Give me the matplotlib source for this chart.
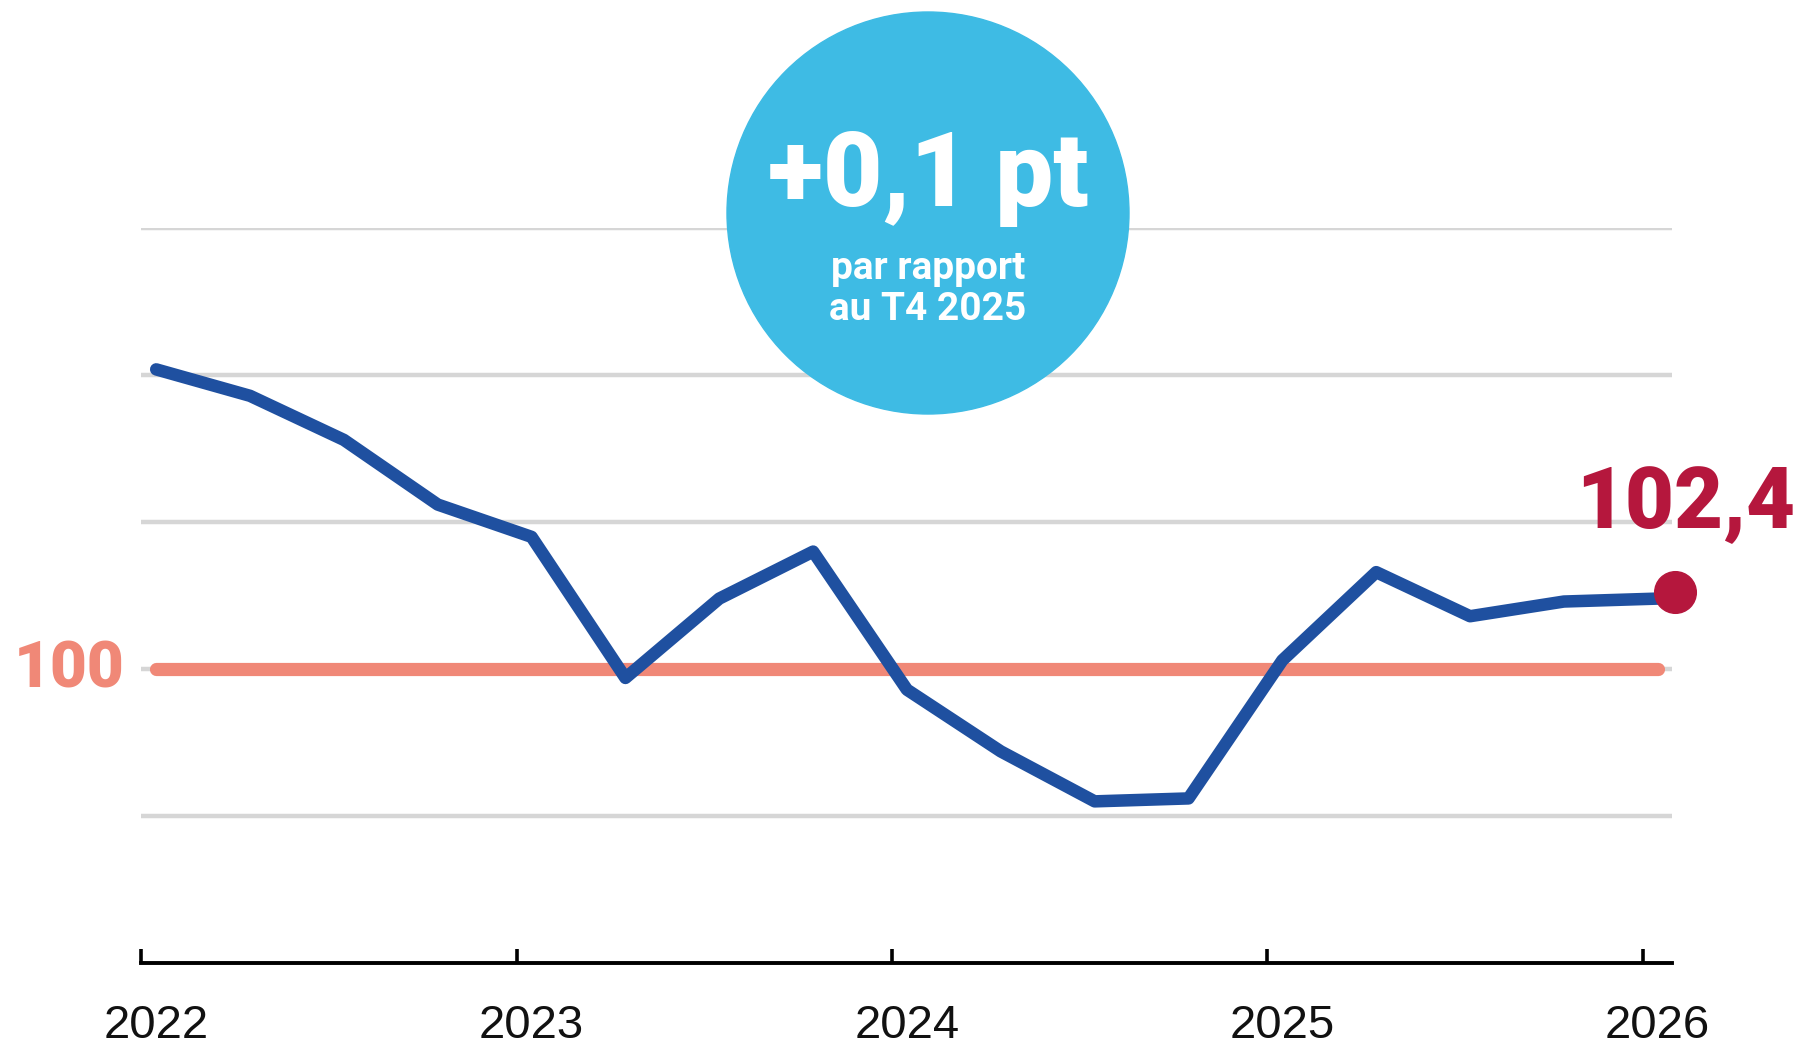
import matplotlib.pyplot as plt
import matplotlib.transforms as mtransforms
from matplotlib.patches import Circle
import numpy as np

# quarterly index, T1 2022 .. T1 2026
quarters = ['T1 2022', 'T2 2022', 'T3 2022', 'T4 2022',
            'T1 2023', 'T2 2023', 'T3 2023', 'T4 2023',
            'T1 2024', 'T2 2024', 'T3 2024', 'T4 2024',
            'T1 2025', 'T2 2025', 'T3 2025', 'T4 2025',
            'T1 2026']
values = [110.2, 109.3, 107.8, 105.6,
          104.5, 99.7, 102.4, 104.0,
          99.3, 97.2, 95.5, 95.6,
          100.3, 103.3, 101.8, 102.3,
          102.4]
years = [2022, 2023, 2024, 2025, 2026]
base = 100
grid_vals = [95, 100, 105, 110, 115]

last_label = '102,4'
delta_big = '+0,1 pt'
delta_small = 'par rapport\nau T4 2025'

blue = '#1f50a0'
salmon = '#f08877'
crimson = '#b5173d'
sky = '#3ebbe4'

# points sit mid-month of the first month of each quarter
x = np.array([int(q[-4:]) + (int(q[1]) - 1) / 4 + 0.04 for q in quarters])
y = np.array(values)

fig = plt.figure(figsize=(18.17, 10.44), dpi=100)
ax = fig.add_axes([0.0777, 0.0776, 0.8425, 0.7037])

for g in grid_vals:
    ax.axhline(g, color='#d6d6d6', linewidth=3.2, zorder=1)

ax.plot([x[0], x[-1]], [base, base], color=salmon, linewidth=9.5,
        solid_capstyle='round', zorder=2)
ax.plot(x, y, color=blue, linewidth=9, solid_capstyle='round',
        solid_joinstyle='round', zorder=3)

# end dot, nudged slightly up-right as in the original
dot_tr = ax.transData + mtransforms.ScaledTranslation(0.17, 0.07, fig.dpi_scale_trans)
ax.plot([x[-1]], [y[-1]], 'o', markersize=30, color=crimson, transform=dot_tr,
        zorder=4, clip_on=False)

ax.set_xlim(2022, 2026.078)
ax.set_ylim(90, 115)

for s in ['top', 'right', 'left']:
    ax.spines[s].set_visible(False)
ax.spines['bottom'].set_linewidth(2.8)
ax.spines['bottom'].set_color('black')
ax.set_yticks([])
ax.set_xticks(years)
ax.set_xticklabels([])
ax.tick_params(axis='x', direction='in', length=10, width=2.6, color='black')

for yr in years:
    ax.text(yr + 0.04, -0.1015, str(yr), transform=ax.get_xaxis_transform(),
            ha='center', va='baseline', fontsize=34, family='Liberation Sans',
            color='#111111')

# labels
ax.text(-0.083, base, '100', transform=mtransforms.blended_transform_factory(ax.transAxes, ax.transData),
        ha='left', va='center', fontsize=46, fontweight='black', family='Roboto',
        color=salmon)
ax.annotate(last_label, xy=(x[-1], y[-1]), xytext=(20, 51), textcoords='offset points',
            ha='center', va='baseline', fontsize=61, fontweight='black',
            family='Roboto', color=crimson, annotation_clip=False)

# bubble
circ = Circle((9.28, 8.31), 2.01, transform=fig.dpi_scale_trans, color=sky, zorder=5)
fig.add_artist(circ)
fig.text(9.28 / 18.17, 8.38 / 10.44, delta_big, ha='center', va='baseline',
         fontsize=74, fontweight='black', family='Roboto', color='white', zorder=6)
fig.text(9.28 / 18.17, 7.24 / 10.44, delta_small, ha='center', va='baseline',
         fontsize=28, fontweight='bold', family='Roboto', color='white',
         linespacing=1.15, zorder=6)

fig.savefig('out.png', dpi=100)
